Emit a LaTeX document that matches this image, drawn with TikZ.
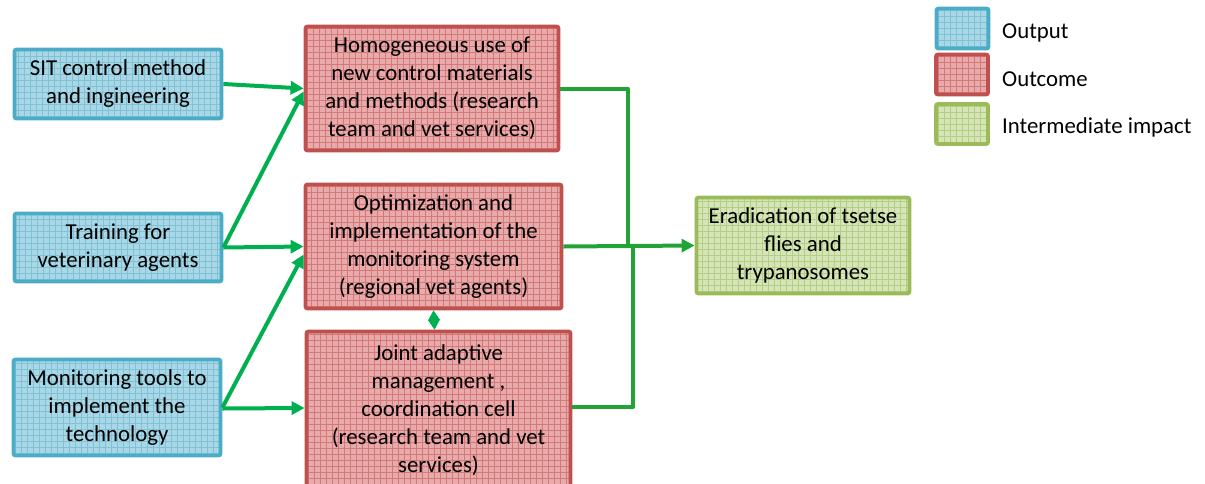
\documentclass[tikz,border=0pt]{standalone}
\usepackage{fontspec}
\setmainfont{Carlito}
\usetikzlibrary{arrows.meta}
\definecolor{bluebd}{HTML}{4BACC6}
\definecolor{bluefl}{HTML}{AAD7E6}
\definecolor{bluegr}{HTML}{7FC2D7}
\definecolor{redbd}{HTML}{C0504D}
\definecolor{redfl}{HTML}{E8AAAA}
\definecolor{redgr}{HTML}{D27A7A}
\definecolor{grnbd}{HTML}{9BBB59}
\definecolor{grnfl}{HTML}{D6E5B8}
\definecolor{grngr}{HTML}{B4CE86}
\definecolor{lgreen}{HTML}{00B050}
\definecolor{dgreen}{HTML}{22A336}
\begin{document}
\begin{tikzpicture}[x=1pt,y=-1pt,
  box/.style={draw, line width=3.8pt, rounded corners=2pt, align=center, inner sep=0pt,
    font=\fontsize{22.8}{28}\selectfont},
  outbox/.style={box, draw=bluebd, fill=bluefl,
    path picture={\draw[bluegr, line width=0.5pt] (path picture bounding box.south west) grid[step=6pt] (path picture bounding box.north east);}},
  outcbox/.style={box, draw=redbd, fill=redfl,
    path picture={\draw[redgr, line width=0.5pt] (path picture bounding box.south west) grid[step=6pt] (path picture bounding box.north east);}},
  impbox/.style={box, draw=grnbd, fill=grnfl,
    path picture={\draw[grngr, line width=0.5pt] (path picture bounding box.south west) grid[step=6pt] (path picture bounding box.north east);}},
  legtext/.style={anchor=west, inner sep=0pt, font=\fontsize{22.8}{28}\selectfont},
  link/.style={draw=lgreen, line width=4pt, -{Triangle[length=13pt,width=13pt]}},
  bus/.style={draw=dgreen, line width=4pt},
]
\useasboundingbox (0,0) rectangle (1205,483);

% outputs
\node[outbox, minimum width=207pt, minimum height=69pt] (sit) at (118,84) {SIT control method\\and ingineering};
\node[outbox, minimum width=207pt, minimum height=68pt] (train) at (118,247.5) {Training for\\veterinary agents};
\node[outbox, minimum width=207pt, minimum height=96pt] (mon) at (117,407.5) {Monitoring tools to\\implement the\\technology};

% outcomes
\node[outcbox, minimum width=253pt, minimum height=124pt] (hom) at (432,88.5) {Homogeneous use of\\new control materials\\and methods (research\\team and vet services)};
\node[outcbox, minimum width=256pt, minimum height=124pt] (opt) at (433.5,246.5) {Optimization and\\implementation of the\\monitoring system\\(regional vet agents)};
\node[outcbox, minimum width=264pt, minimum height=157pt] (joint) at (438.5,410) {Joint adaptive\\management ,\\coordination cell\\(research team and vet\\services)};

% impact
\node[impbox, minimum width=213pt, minimum height=96pt] (erad) at (803,245.5) {Eradication of tsetse\\flies and\\trypanosomes};

% legend
\node[outbox, minimum width=52pt, minimum height=40pt] (leg1) at (962.5,28.5) {};
\node[outcbox, minimum width=52pt, minimum height=40pt] (leg2) at (962,74.5) {};
\node[impbox, minimum width=52pt, minimum height=40pt] (leg3) at (962,124) {};
\node[legtext] (lt1) at (1002,33) {Output};
\node[legtext] (lt2) at (1002,79) {Outcome};
\node[legtext] (lt3) at (1002,127) {Intermediate impact};

% left connectors
\draw[link] (sit.east) -- (hom.west);
\draw[link] (train.east) -- ([yshift=-3pt]hom.west);
\draw[link] (train.east) -- (opt.west);
\draw[link] (mon.east) -- ([yshift=-8pt]opt.west);
\draw[link] ([yshift=-1pt]mon.east) -- ([yshift=2pt]joint.west);

% between outcomes
\draw[draw=lgreen, line width=0.5pt, fill=lgreen,
  {Triangle[length=10pt,width=12pt,fill=lgreen]}-{Triangle[length=10pt,width=12pt,fill=lgreen]}]
  ([xshift=0pt]opt.south) -- ([xshift=-4pt]joint.north);

% right bus
\coordinate (busA) at (628,246.5);
\coordinate (busB) at (633,246.5);
\draw[bus, line join=round] (hom.east) -| (busA);
\draw[bus, line join=round] ([yshift=3pt]joint.east) -| (busB);
\draw[bus, -{Triangle[length=13pt,width=13pt]}] (opt.east) -- (erad.west);
\end{tikzpicture}
\end{document}
